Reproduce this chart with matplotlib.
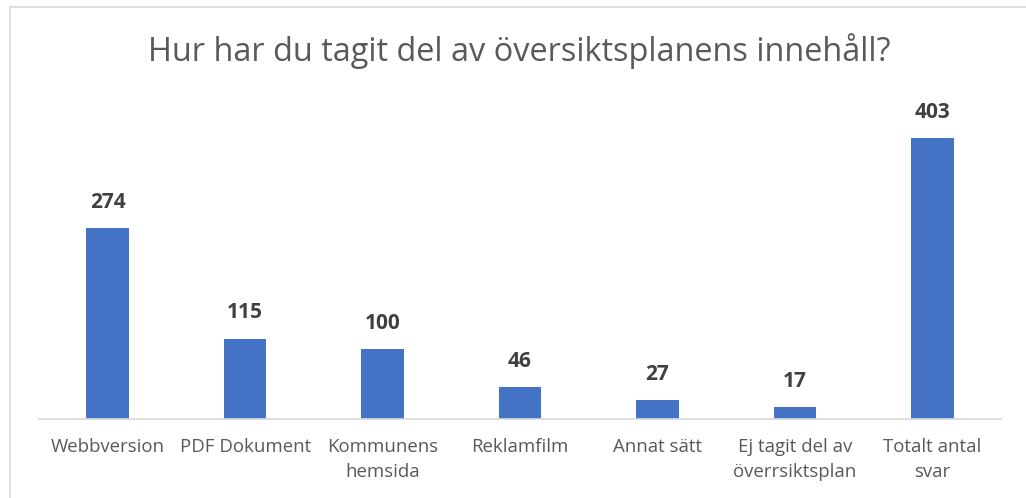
import matplotlib.pyplot as plt
from matplotlib.lines import Line2D
import numpy as np

plt.rcParams['font.family'] = ['Open Sans', 'DejaVu Sans']

categories = ['Webbversion', 'PDF Dokument', 'Kommunens\nhemsida', 'Reklamfilm',
              'Annat sätt', 'Ej tagit del av\növerrsiktsplan', 'Totalt antal\nsvar']
values = [274, 115, 100, 46, 27, 17, 403]
title = "Hur har du tagit del av översiktsplanens innehåll?"

W, H = 1026, 498
fig = plt.figure(figsize=(W / 100, H / 100), dpi=100)
# plot area: x 39..1001, y 105..419 (pixels from top)
ax = fig.add_axes([39 / W, 1 - 419 / H, (1001 - 39) / W, (419 - 105) / H])

x = np.arange(len(categories))
ax.bar(x, values, width=0.31, color='#4472C4')
ax.set_xlim(-0.5, len(categories) - 0.5)
ax.set_ylim(0, 450)

for i, v in enumerate(values):
    ax.annotate(str(v), (i, v), xytext=(0, 11), textcoords='offset points',
                ha='center', va='bottom', fontsize=15, fontweight='bold', color='#404040')

ax.set_xticks(x)
ax.set_xticklabels(categories, fontsize=13.4, color='#595959', linespacing=1.45)
ax.tick_params(axis='x', length=0, pad=14)
ax.set_yticks([])
for s in ['top', 'right', 'left']:
    ax.spines[s].set_visible(False)
ax.spines['bottom'].set_color('#D9D9D9')
ax.spines['bottom'].set_linewidth(1.2)

fig.text(519 / W, 1 - 51 / H, title, ha='center', va='center', fontsize=23.4, color='#595959')

# chart frame (top and left edges visible)
fig.add_artist(Line2D([10 / W, 1], [1 - 7 / H, 1 - 7 / H], color='#D9D9D9', lw=1.2))
fig.add_artist(Line2D([10 / W, 10 / W], [0, 1 - 7 / H], color='#D9D9D9', lw=1.2))

plt.savefig("out.png", dpi=100)
